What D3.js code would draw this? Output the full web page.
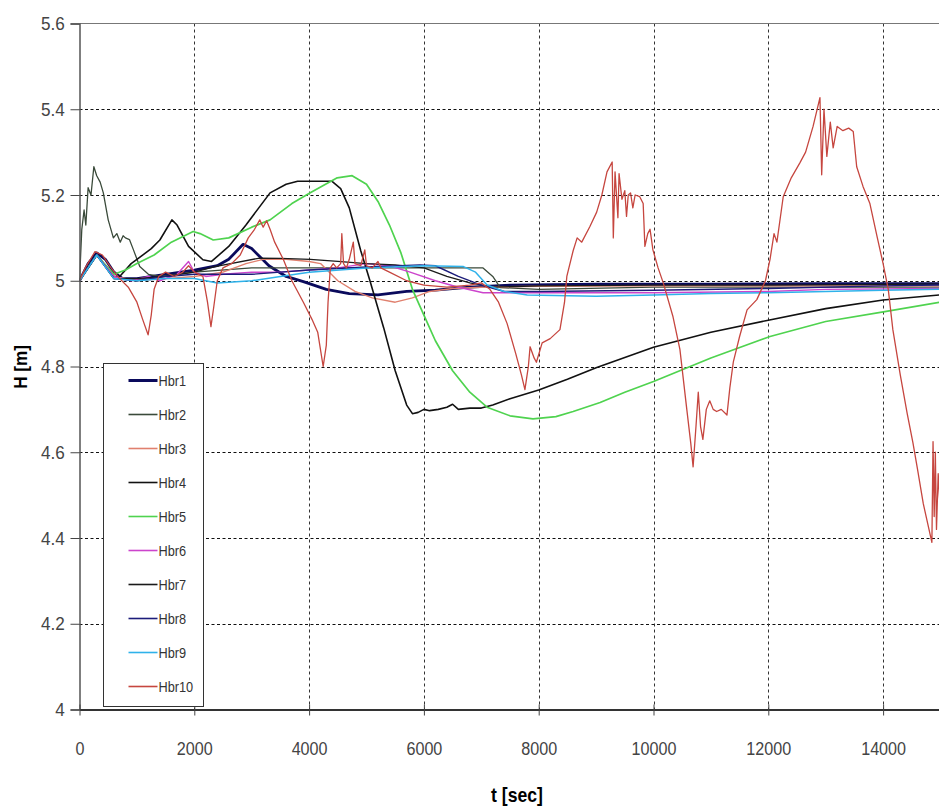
<!DOCTYPE html>
<html>
<head>
<meta charset="utf-8">
<script src="https://cdn.jsdelivr.net/npm/d3@7"></script>
<style>
  body { margin: 0; background: #fff; }
  text { font-family: "Liberation Sans", Arial, sans-serif; }
</style>
</head>
<body>
<svg id="chart" width="939" height="808"></svg>
<script>
// series names, in legend order
const seriesNames = ['Hbr1', 'Hbr2', 'Hbr3', 'Hbr4', 'Hbr5', 'Hbr6', 'Hbr7', 'Hbr8', 'Hbr9', 'Hbr10'];

// [t sec, H m]
const hbr1 = [[0,5.0],[150,5.04],[300,5.065],[450,5.05],[600,5.02],[750,5.005],[1000,5.005],[1500,5.015],[2000,5.025],[2400,5.035],[2600,5.05],[2850,5.085],[3000,5.075],[3300,5.035],[3600,5.01],[3900,4.998],[4300,4.98],[4700,4.97],[5200,4.967],[5700,4.975],[6200,4.978],[6800,4.985],[7500,4.99],[9000,4.992],[11000,4.992],[13000,4.993],[15000,4.993]];
const hbr2 = [[0,5.0],[40,5.12],[80,5.165],[110,5.13],[150,5.217],[200,5.2],[250,5.266],[300,5.245],[360,5.23],[415,5.205],[500,5.142],[590,5.1],[650,5.11],[710,5.09],[760,5.105],[800,5.1],[870,5.096],[940,5.072],[1050,5.033],[1200,5.015],[1400,5.01],[2000,5.02],[3000,5.03],[4000,5.03],[5000,5.03],[6000,5.03],[7030,5.03],[7200,5.01],[7330,4.984],[8000,4.98],[10000,4.985],[15000,4.985]];
const hbr3 = [[0,5.0],[300,5.06],[600,5.01],[1000,5.0],[1500,5.005],[2000,5.01],[2500,5.02],[2900,5.04],[3200,5.05],[3600,5.05],[4000,5.045],[4200,5.04],[4500,5.0],[4800,4.975],[5100,4.96],[5500,4.95],[5800,4.96],[6100,4.975],[6500,4.982],[7000,4.985],[8000,4.987],[10000,4.988],[15000,4.988]];
const hbr4 = [[0,5.0],[300,5.06],[600,5.01],[700,5.01],[900,5.04],[1100,5.06],[1250,5.075],[1400,5.095],[1610,5.142],[1700,5.13],[1900,5.08],[2150,5.049],[2300,5.045],[2600,5.08],[2900,5.13],[3320,5.205],[3600,5.225],[3800,5.232],[4400,5.232],[4550,5.215],[4700,5.17],[4900,5.07],[5060,5.0],[5300,4.89],[5500,4.79],[5700,4.71],[5800,4.69],[5900,4.693],[6000,4.7],[6100,4.697],[6250,4.7],[6400,4.705],[6500,4.712],[6600,4.7],[6800,4.703],[7000,4.703],[7200,4.71],[7500,4.725],[8000,4.745],[8500,4.77],[9000,4.797],[10000,4.845],[11000,4.88],[12000,4.908],[13000,4.935],[14000,4.955],[15000,4.967]];
const hbr5 = [[0,5.0],[300,5.06],[600,5.015],[800,5.025],[1000,5.04],[1300,5.06],[1600,5.09],[1980,5.115],[2100,5.11],[2330,5.095],[2600,5.1],[3000,5.125],[3320,5.142],[3700,5.18],[4020,5.205],[4490,5.24],[4750,5.245],[5000,5.225],[5200,5.185],[5400,5.13],[5600,5.065],[5800,4.98],[6000,4.92],[6200,4.86],[6500,4.79],[6800,4.74],[7100,4.705],[7500,4.685],[7900,4.678],[8300,4.683],[8600,4.695],[9070,4.716],[9500,4.74],[10000,4.765],[11000,4.82],[12030,4.87],[13000,4.905],[14030,4.928],[15000,4.95]];
const hbr6 = [[0,5.0],[300,5.06],[600,5.01],[900,5.0],[1200,5.01],[1400,5.0],[1700,5.015],[1900,5.045],[2000,5.02],[2200,5.01],[2500,5.015],[3000,5.02],[3500,5.02],[4000,5.025],[4500,5.03],[5000,5.04],[5400,5.035],[5760,5.02],[6200,5.0],[6570,4.986],[7030,4.972],[8000,4.972],[10000,4.972],[12000,4.975],[13000,4.98],[15000,4.982]];
const hbr7 = [[0,5.0],[300,5.06],[600,5.005],[1000,5.005],[1500,5.01],[2000,5.02],[2360,5.033],[3140,5.053],[3500,5.052],[4020,5.05],[4500,5.045],[5000,5.04],[5500,5.037],[6000,5.03],[6400,5.01],[6800,4.995],[7200,4.985],[8000,4.988],[10000,4.99],[12000,4.99],[15000,4.992]];
const hbr8 = [[0,5.0],[300,5.06],[600,5.005],[1000,5.0],[1500,5.01],[2000,5.015],[3000,5.015],[3500,5.02],[4000,5.025],[5000,5.032],[5930,5.037],[6200,5.035],[6600,5.01],[7000,4.99],[7400,4.975],[8000,4.975],[10000,4.978],[12000,4.982],[14000,4.988],[15000,4.99]];
const hbr9 = [[0,5.0],[300,5.06],[600,5.005],[1000,5.0],[1500,5.005],[2000,5.005],[2400,4.995],[3000,5.0],[3500,5.01],[4000,5.02],[5000,5.03],[6000,5.035],[6690,5.033],[6900,5.02],[7100,4.99],[7400,4.975],[7800,4.967],[9000,4.964],[10000,4.967],[11000,4.97],[12000,4.972],[13000,4.975],[14000,4.978],[15000,4.98]];
const hbr10 = [[0,5.0],[100,5.03],[270,5.068],[400,5.06],[550,5.03],[700,5.005],[850,4.985],[1000,4.95],[1100,4.91],[1195,4.874],[1250,4.92],[1300,4.98],[1380,5.01],[1500,5.02],[1650,5.01],[1800,5.02],[1900,5.035],[2000,5.02],[2150,5.01],[2230,4.95],[2290,4.893],[2340,4.94],[2400,5.0],[2500,5.03],[2650,5.04],[2800,5.06],[2940,5.1],[3050,5.12],[3140,5.142],[3200,5.125],[3260,5.14],[3320,5.12],[3400,5.09],[3550,5.05],[3700,5.0],[3900,4.95],[4050,4.91],[4150,4.88],[4245,4.8],[4300,4.85],[4330,4.95],[4370,5.03],[4420,5.04],[4480,5.03],[4550,5.04],[4570,5.11],[4600,5.04],[4650,5.03],[4700,5.05],[4770,5.09],[4800,5.04],[4900,5.035],[4970,5.072],[5000,5.035],[5100,5.03],[5200,5.045],[5250,5.03],[5400,5.02],[5700,5.0],[6000,4.99],[6400,4.985],[6800,4.99],[7000,4.995],[7150,4.98],[7300,4.95],[7450,4.9],[7600,4.83],[7700,4.78],[7760,4.746],[7820,4.8],[7850,4.846],[7920,4.82],[7960,4.81],[8060,4.855],[8200,4.865],[8370,4.886],[8450,4.95],[8490,5.01],[8600,5.07],[8670,5.1],[8750,5.09],[8890,5.126],[9010,5.16],[9100,5.2],[9190,5.254],[9280,5.277],[9300,5.1],[9330,5.254],[9380,5.147],[9400,5.25],[9450,5.19],[9500,5.21],[9530,5.15],[9560,5.2],[9600,5.205],[9640,5.17],[9680,5.2],[9760,5.196],[9820,5.18],[9850,5.08],[9900,5.11],[9940,5.12],[9990,5.072],[10080,5.03],[10170,4.995],[10340,4.916],[10460,4.84],[10580,4.7],[10650,4.62],[10690,4.566],[10740,4.66],[10780,4.74],[10820,4.66],[10860,4.63],[10920,4.7],[10980,4.72],[11040,4.7],[11100,4.695],[11180,4.7],[11280,4.687],[11330,4.75],[11390,4.81],[11500,4.87],[11630,4.932],[11800,4.956],[11950,5.0],[12030,5.05],[12100,5.11],[12150,5.09],[12260,5.196],[12400,5.24],[12550,5.275],[12650,5.3],[12780,5.36],[12900,5.427],[12930,5.247],[12970,5.4],[13020,5.29],[13080,5.37],[13130,5.31],[13200,5.36],[13300,5.35],[13400,5.356],[13480,5.348],[13540,5.266],[13650,5.22],[13770,5.18],[13900,5.1],[14000,5.04],[14090,4.98],[14170,4.886],[14300,4.78],[14420,4.69],[14520,4.622],[14600,4.56],[14700,4.48],[14850,4.39],[14870,4.625],[14890,4.45],[14910,4.6],[14930,4.42],[14960,4.55],[14990,4.48]];

// axis ticks
const xTicks = [0, 2000, 4000, 6000, 8000, 10000, 12000, 14000];
const yTicks = [4, 4.2, 4.4, 4.6, 4.8, 5, 5.2, 5.4, 5.6];

// line styles
const lineColours = ['#0a0a5c', '#3a4a3a', '#e0806e', '#111111', '#4fd34f', '#cc44cc', '#1a1a1a', '#1c1c7a', '#2fb2ea', '#c6463f'];
const lineWidths = [2.8, 1.3, 1.4, 1.6, 1.7, 1.4, 1.3, 1.4, 1.5, 1.3];

const seriesValues = [hbr1, hbr2, hbr3, hbr4, hbr5, hbr6, hbr7, hbr8, hbr9, hbr10];

const svg = d3.select('#chart');
const width = +svg.attr('width');

const plotLeft = 79.5, plotTop = 23.5, plotBottom = 709.5, plotRight = 940.5;

const x = d3.scaleLinear().domain([0, 15000]).range([plotLeft, plotRight]);
const y = d3.scaleLinear().domain([4, 5.6]).range([plotBottom, plotTop]);

// dashed grid
const grid = svg.append('g').attr('class', 'grid');
grid.selectAll('.hgrid').data(yTicks.filter(d => d > 4 && d < 5.6))
  .join('line')
    .attr('class', 'hgrid')
    .attr('x1', plotLeft).attr('x2', width)
    .attr('y1', d => Math.round(y(d)) + 0.5).attr('y2', d => Math.round(y(d)) + 0.5)
    .attr('stroke', '#111').attr('stroke-dasharray', '3,2.5');
grid.selectAll('.vgrid').data(xTicks.filter(d => d > 0))
  .join('line')
    .attr('class', 'vgrid')
    .attr('y1', plotTop).attr('y2', plotBottom)
    .attr('x1', d => Math.round(x(d)) + 0.5).attr('x2', d => Math.round(x(d)) + 0.5)
    .attr('stroke', '#333').attr('stroke-dasharray', '3,3');

// top border
svg.append('line')
  .attr('x1', plotLeft).attr('x2', width)
  .attr('y1', plotTop).attr('y2', plotTop)
  .attr('stroke', '#777').attr('stroke-width', 1.2);

// lines
svg.append('clipPath').attr('id', 'plot-clip')
  .append('rect')
    .attr('x', plotLeft).attr('y', plotTop)
    .attr('width', plotRight - plotLeft).attr('height', plotBottom - plotTop);

const line = d3.line().x(d => x(d[0])).y(d => y(d[1]));

svg.append('g').attr('clip-path', 'url(#plot-clip)')
  .selectAll('.series').data(seriesValues)
  .join('path')
    .attr('class', 'series')
    .attr('fill', 'none')
    .attr('stroke', (d, i) => lineColours[i])
    .attr('stroke-width', (d, i) => lineWidths[i])
    .attr('stroke-linejoin', 'round')
    .attr('d', line);

// y axis
const yAxis = svg.append('g')
  .attr('transform', `translate(${plotLeft},0)`)
  .call(d3.axisLeft(y).tickValues(yTicks).tickFormat(d3.format('~g')).tickSize(9).tickPadding(6));
yAxis.select('.domain').attr('stroke', '#555').attr('stroke-width', 1.5);
yAxis.selectAll('.tick line').attr('stroke', '#444');
yAxis.selectAll('.tick text')
  .attr('font-size', 19)
  .attr('fill', '#444')
  .attr('x', -16.5)
  .attr('transform', 'scale(0.9,1)');

// x axis
const xAxis = svg.append('g')
  .attr('transform', `translate(0,${plotBottom})`)
  .call(d3.axisBottom(x).tickValues(xTicks).tickFormat(d3.format('d')).tickSize(6).tickPadding(26).tickSizeOuter(0));
xAxis.select('.domain').attr('stroke', '#333').attr('stroke-width', 2);
xAxis.selectAll('.tick line').attr('y1', -5).attr('stroke', '#444');
xAxis.selectAll('.tick text')
  .attr('font-size', 19)
  .attr('fill', '#444')
  .attr('transform', 'scale(0.85,1)');

// axis titles
svg.append('text')
  .attr('transform', 'translate(27,367) rotate(-90) scale(0.9,1)')
  .attr('text-anchor', 'middle')
  .attr('font-size', 19)
  .attr('font-weight', 'bold')
  .text('H [m]');

svg.append('text')
  .attr('transform', 'translate(517,802) scale(0.88,1)')
  .attr('text-anchor', 'middle')
  .attr('font-size', 20)
  .attr('font-weight', 'bold')
  .text('t [sec]');

// legend
const legend = svg.append('g').attr('transform', 'translate(103.5,363.5)');
legend.append('rect')
  .attr('width', 100).attr('height', 343)
  .attr('fill', '#fff').attr('stroke', '#333').attr('stroke-width', 1);

const legendItem = legend.selectAll('.legend-item').data(seriesNames)
  .join('g')
    .attr('class', 'legend-item')
    .attr('transform', (d, i) => `translate(0,${17 + i * 34})`);
legendItem.append('line')
  .attr('x1', 25).attr('x2', 54)
  .attr('stroke', (d, i) => lineColours[i])
  .attr('stroke-width', (d, i) => i === 0 ? 3 : 1.6);
legendItem.append('text')
  .attr('transform', 'translate(55,0) scale(0.85,1)')
  .attr('dy', '0.36em')
  .attr('font-size', 15)
  .attr('fill', '#333')
  .text(d => d);
</script>
</body>
</html>
